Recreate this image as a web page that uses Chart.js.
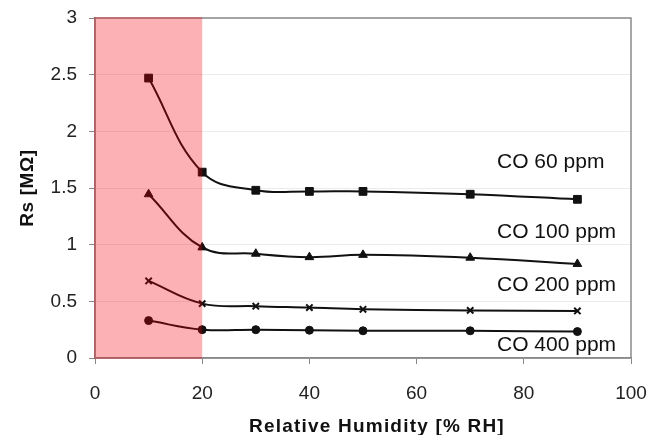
<!DOCTYPE html>
<html>
<head>
<meta charset="utf-8">
<script src="https://cdn.jsdelivr.net/npm/chart.js@4.4.1/dist/chart.umd.min.js"></script>
<style>
    html, body { margin: 0; padding: 0; background: #fff; }
    #wrap { width: 651px; height: 435px; }
</style>
</head>
<body>
<div id="wrap"><canvas id="rs-chart" width="651" height="435"></canvas></div>
<script>
// Humidity steps (% RH)
const humidity = [10, 20, 30, 40, 50, 70, 90];

// Sensor resistance in MOhm for each CO level
const co60 = [2.47, 1.64, 1.48, 1.47, 1.47, 1.445, 1.40];
const co100 = [1.445, 0.976, 0.92, 0.89, 0.91, 0.885, 0.83];
const co200 = [0.68, 0.48, 0.457, 0.445, 0.43, 0.42, 0.415];
const co400 = [0.33, 0.25, 0.25, 0.245, 0.24, 0.24, 0.233];

// Curve names and where they sit (x in % RH, y in MOhm)
const seriesNames = ['CO 60 ppm', 'CO 100 ppm', 'CO 200 ppm', 'CO 400 ppm'];
const nameAtX = [75, 75, 75, 75];
const nameAtY = [1.676, 1.059, 0.587, 0.066];

// Shaded low-humidity band
const bandFrom = 0;
const bandTo = 20;

const font = "'Liberation Sans', Arial, sans-serif";

function toPoints(values) {
    return humidity.map((h, i) => ({ x: h, y: values[i] }));
}

function makeSeries(values, label, style, radius, borderWidth) {
    return {
        label: label,
        data: toPoints(values),
        borderColor: '#111',
        backgroundColor: '#111',
        borderWidth: 2,
        tension: 0.4,
        pointStyle: style,
        pointRadius: radius,
        pointHoverRadius: radius,
        pointBorderWidth: borderWidth,
        pointBackgroundColor: '#111',
        pointBorderColor: '#111'
    };
}

// keep the plot box fixed, labels may hang over the edges
function noLabelPadding(scale) {
    scale.paddingLeft = 0;
    scale.paddingRight = 0;
    scale.paddingTop = 0;
    scale.paddingBottom = 0;
}

const frameAndBand = {
    id: 'frameAndBand',
    beforeDatasetsDraw(chart) {
        const { ctx, chartArea } = chart;
        ctx.save();
        ctx.strokeStyle = '#8a8a8a';
        ctx.lineWidth = 1.5;
        ctx.strokeRect(chartArea.left, chartArea.top, chartArea.right - chartArea.left, chartArea.bottom - chartArea.top);
        ctx.restore();
    },
    afterDatasetsDraw(chart) {
        const { ctx, chartArea, scales } = chart;
        const x0 = scales.x.getPixelForValue(bandFrom);
        const x1 = scales.x.getPixelForValue(bandTo);
        ctx.save();
        ctx.fillStyle = 'rgba(245, 0, 10, 0.30)';
        ctx.fillRect(x0 - 1, chartArea.top - 1, x1 - x0 + 1, chartArea.bottom - chartArea.top + 2);
        ctx.restore();
    },
    afterDraw(chart) {
        const { ctx, chartArea, scales } = chart;
        ctx.save();
        ctx.fillStyle = '#111';

        // curve names
        ctx.font = '21px ' + font;
        ctx.textAlign = 'left';
        ctx.textBaseline = 'alphabetic';
        seriesNames.forEach((name, i) => {
            ctx.fillText(name, scales.x.getPixelForValue(nameAtX[i]), scales.y.getPixelForValue(nameAtY[i]));
        });

        // axis titles
        ctx.font = 'bold 19px ' + font;
        ctx.letterSpacing = '1.2px';
        ctx.textAlign = 'center';
        ctx.fillText('Relative Humidity [% RH]', (chartArea.left + chartArea.right) / 2 + 14, 432);

        ctx.letterSpacing = '0.6px';
        ctx.translate(33, (chartArea.top + chartArea.bottom) / 2);
        ctx.rotate(-Math.PI / 2);
        ctx.fillText('Rs [M\u03A9]', 0, 0);
        ctx.restore();
    }
};

const ctxRs = document.getElementById('rs-chart');

new Chart(ctxRs, {
    type: 'line',
    data: {
        datasets: [
            makeSeries(co60, seriesNames[0], 'rect', 5.5, 1),
            makeSeries(co100, seriesNames[1], 'triangle', 5, 1),
            makeSeries(co200, seriesNames[2], 'crossRot', 4.5, 2),
            makeSeries(co400, seriesNames[3], 'circle', 4, 1)
        ]
    },
    options: {
        responsive: false,
        animation: false,
        devicePixelRatio: 1,
        layout: {
            padding: { top: 18, right: 20, left: 0, bottom: 0 }
        },
        plugins: {
            legend: { display: false },
            tooltip: { enabled: false }
        },
        scales: {
            x: {
                type: 'linear',
                min: 0,
                max: 100,
                afterFit: (scale) => { scale.height = 77; noLabelPadding(scale); },
                ticks: {
                    stepSize: 20,
                    color: '#222',
                    padding: 18,
                    font: { family: font, size: 19 }
                },
                grid: {
                    drawOnChartArea: false,
                    drawTicks: true,
                    tickLength: 6,
                    tickColor: '#888'
                },
                border: { display: true, color: '#8a8a8a', width: 1.5 }
            },
            y: {
                min: 0,
                max: 3,
                afterFit: (scale) => { scale.width = 95; noLabelPadding(scale); },
                ticks: {
                    stepSize: 0.5,
                    color: '#222',
                    padding: 12,
                    font: { family: font, size: 19 },
                    callback: (value) => String(value)
                },
                grid: {
                    color: '#ebebeb',
                    drawTicks: true,
                    tickLength: 6,
                    tickColor: '#888'
                },
                border: { display: true, color: '#8a8a8a', width: 1.5 }
            }
        }
    },
    plugins: [frameAndBand]
});
</script>
</body>
</html>
